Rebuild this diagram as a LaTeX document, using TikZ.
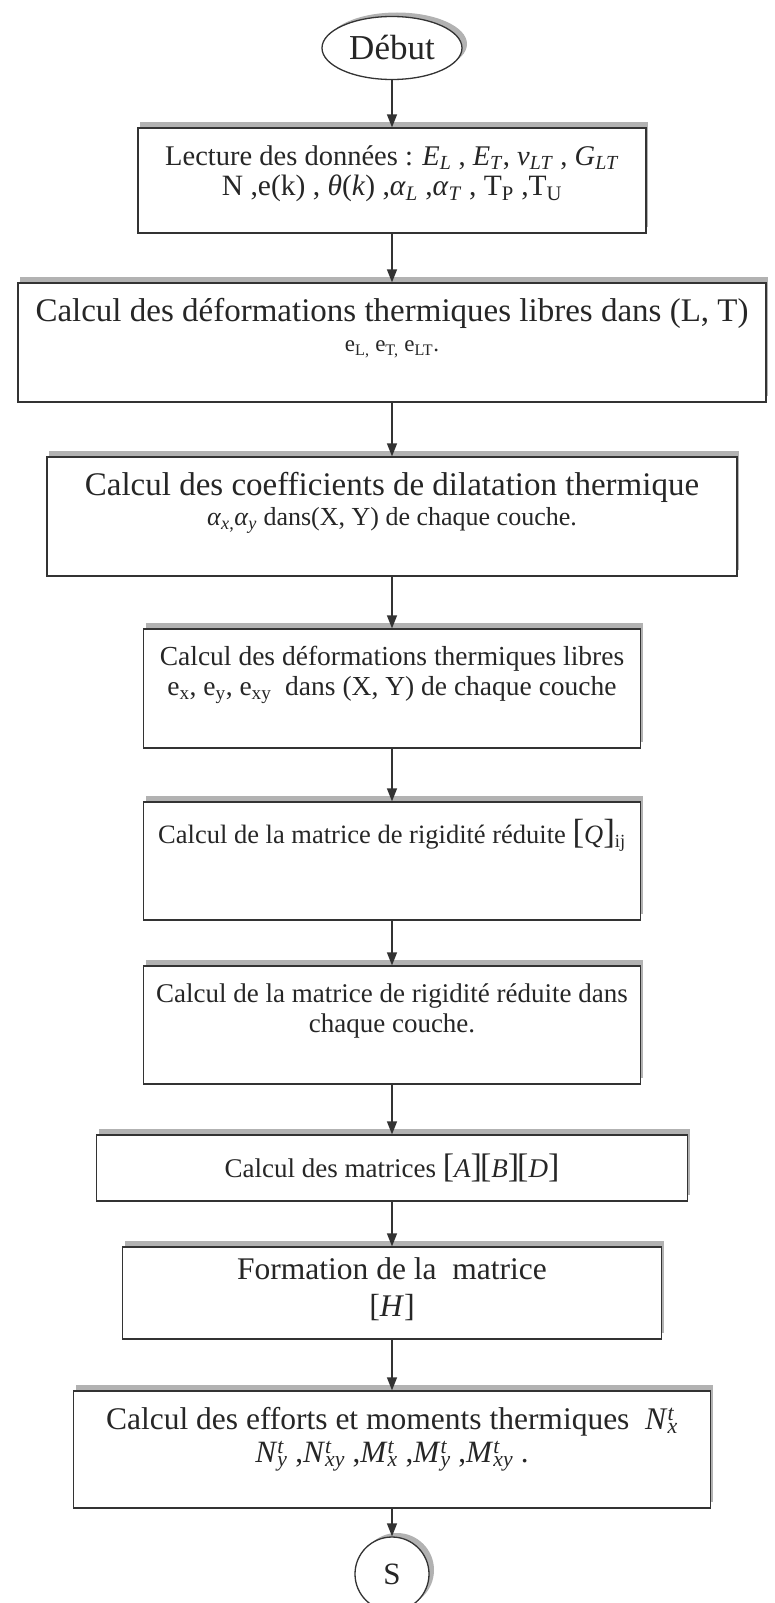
\documentclass[tikz,border=0pt]{standalone}
\usepackage{fontspec}
\setmainfont{Liberation Serif}
\usetikzlibrary{arrows.meta,positioning,shapes.geometric,shadows}

\newcommand{\vsub}[2]{\textit{#1}\textsubscript{\textit{#2}}}
\newcommand{\vts}[2]{\textit{#1}\rlap{\textsuperscript{\textit{t}}}\textsubscript{\textit{#2}}}
\newcommand{\bigbr}[2][40]{{\fontsize{#1}{#1}\selectfont[}\textit{#2}{\fontsize{#1}{#1}\selectfont]}}
\newcommand{\fs}[1]{\fontsize{#1}{30}\selectfont}

\tikzset{
  proc/.style={draw=black!80, line width=1.3pt, fill=white, inner sep=0pt,
    general shadow={fill=gray!60, shadow xshift=2pt, shadow yshift=6pt}},
  term/.style={draw=black!80, line width=1.3pt, fill=white, inner sep=0pt,
    text=black!85,
    general shadow={fill=gray!60, shadow xshift=5pt, shadow yshift=4pt}},
  txt/.style={align=center, inner sep=0pt, text=black!85,
    font=\fontsize{#1}{30}\selectfont},
  txt/.default=31,
  flow/.style={draw=black!80, line width=1.3pt, -{Triangle[length=13pt,width=10pt]}},
}

\begin{document}
\begin{tikzpicture}[x=1pt,y=-1pt]
  \useasboundingbox (0,0) rectangle (774,1603);

  % start and end
  \node[term, ellipse, minimum width=140pt, minimum height=63pt,
    font=\fontsize{35}{36}\selectfont] (deb) at (392,48) {Début};
  \node[term, circle, minimum size=74pt,
    font=\fontsize{31}{33}\selectfont] (fin) at (392,1574) {S};

  % process boxes
  \node[proc, minimum width=508pt, minimum height=105pt] (b1) at (392,180.5) {};
  \node[proc, minimum width=748pt, minimum height=119pt] (b2) at (392,342.5) {};
  \node[proc, minimum width=690pt, minimum height=119pt] (b3) at (392,516.5) {};
  \node[proc, minimum width=497pt, minimum height=119pt] (b4) at (392,688.5) {};
  \node[proc, minimum width=497pt, minimum height=118pt] (b5) at (392,861) {};
  \node[proc, minimum width=497pt, minimum height=118pt] (b6) at (392,1025) {};
  \node[proc, minimum width=591pt, minimum height=66pt] (b7) at (392,1168) {};
  \node[proc, minimum width=539pt, minimum height=92pt] (b8) at (392,1293) {};
  \node[proc, minimum width=637pt, minimum height=117pt] (b9) at (392,1449.5) {};

  % texts
  \node[txt=28.5, below=18pt of b1.north] (t1)
    {Lecture des données : \vsub{E}{L} , \vsub{E}{T}, \vsub{ν}{LT} , \vsub{G}{LT}\\
     {\fs{29.5}N ,e(k) , \textit{θ}(\textit{k}) ,\vsub{α}{L} ,\vsub{α}{T} , T\textsubscript{P} ,T\textsubscript{U}}};
  \node[txt=33, below=16pt of b2.north] (t2)
    {Calcul des déformations thermiques libres dans (L, T)\\
     {\fs{23}e\textsubscript{L,} e\textsubscript{T,} e\textsubscript{LT}.}};
  \node[txt=33, below=16pt of b3.north] (t3)
    {Calcul des coefficients de dilatation thermique\\
     {\fs{26}\textit{α}\textsubscript{\textit{x},}\textit{α}\textsubscript{\textit{y}} dans(X, Y) de chaque couche.}};
  \node[txt=27.5, below=18pt of b4.north] (t4)
    {Calcul des déformations thermiques libres\\
     e\textsubscript{x}, e\textsubscript{y}, e\textsubscript{xy}\ \ dans (X, Y) de chaque couche};
  \node[txt=26.5, below=18pt of b5.north] (t5)
    {Calcul de la matrice de rigidité réduite \bigbr[35]{Q}\textsubscript{ij}};
  \node[txt=27, below=18pt of b6.north] (t6)
    {Calcul de la matrice de rigidité réduite dans\\ chaque couche.};
  \node[txt=27] (t7) at (b7) {Calcul des matrices \bigbr[34]{A}\kern-2pt\bigbr[34]{B}\kern-2pt\bigbr[34]{D}};
  \node[txt=31.5, below=11pt of b8.north] (t8)
    {Formation de la\ \ matrice\\[7pt] \bigbr[32]{H}};
  \node[txt=31.5, below=17pt of b9.north] (t9)
    {Calcul des efforts et moments thermiques\ \ \vts{N}{x}\\[3pt]
     {\fs{31}\vts{N}{y} ,\vts{N}{xy} ,\vts{M}{x} ,\vts{M}{y} ,\vts{M}{xy} .}};

  % connectors
  \draw[flow] (deb) -- (b1);
  \draw[flow] (b1) -- (b2);
  \draw[flow] (b2) -- (b3);
  \draw[flow] (b3) -- (b4);
  \draw[flow] (b4) -- (b5);
  \draw[flow] (b5) -- (b6);
  \draw[flow] (b6) -- (b7);
  \draw[flow] (b7) -- (b8);
  \draw[flow] (b8) -- (b9);
  \draw[flow] (b9) -- (fin);
\end{tikzpicture}
\end{document}
